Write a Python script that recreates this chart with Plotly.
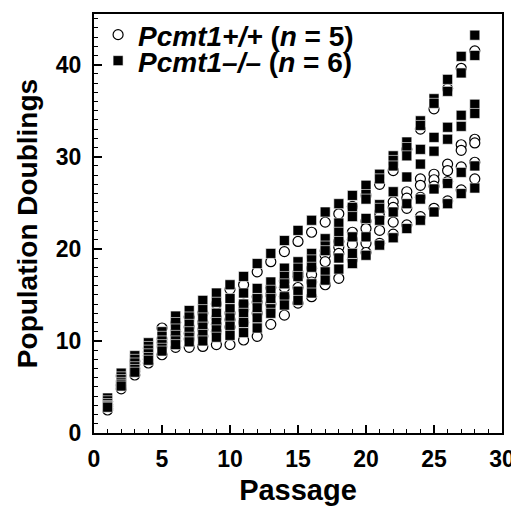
import plotly.graph_objects as go

passage = list(range(1, 29))

# Pcmt1 +/+ (open circles), 5 cell lines
wt_1 = [3.4, 6.2, 7.8, 9.2, 11.4, 12.0, 12.6, 13.0, 14.0, 15.6, 16.1, 17.5, 18.6, 19.7,
        20.8, 21.8, 22.9, 23.8, 24.6, 25.8, 27.0, 28.5, 30.8, 33.0, 35.2, 37.4, 39.6, 41.5]
wt_2 = [3.1, 5.6, 7.4, 8.8, 10.2, 11.0, 11.5, 12.0, 12.5, 13.0, 14.0, 14.8, 15.8, 16.5,
        17.4, 17.9, 19.8, 20.8, 21.8, 23.0, 24.0, 25.1, 26.2, 27.6, 28.1, 29.2, 31.3, 31.9]
wt_3 = [2.9, 5.3, 7.0, 8.4, 9.8, 10.5, 10.8, 11.2, 11.8, 12.3, 13.4, 14.2, 15.0, 15.8,
        17.0, 17.2, 19.3, 20.2, 21.0, 22.2, 23.5, 24.5, 25.5, 26.9, 27.5, 28.5, 30.7, 31.5]
wt_4 = [2.7, 5.1, 6.7, 8.0, 9.4, 10.0, 10.2, 10.5, 11.0, 11.5, 12.0, 13.0, 14.0, 14.8,
        15.8, 16.4, 18.6, 19.5, 20.5, 20.6, 22.0, 22.9, 24.4, 25.6, 26.8, 27.3, 28.9, 29.4]
wt_5 = [2.5, 4.8, 6.3, 7.6, 8.5, 9.3, 9.3, 9.4, 9.6, 9.6, 10.1, 10.5, 11.8, 12.8,
        14.1, 14.8, 16.1, 16.8, 18.8, 19.6, 20.6, 21.6, 22.6, 23.5, 24.4, 25.2, 26.4, 27.6]

# Pcmt1 -/- (filled squares), 6 cell lines
ko_1 = [3.8, 6.5, 8.4, 9.8, 11.0, 12.7, 13.3, 14.4, 15.2, 16.1, 17.0, 18.4, 19.5, 20.9,
        22.0, 23.1, 24.0, 24.9, 25.8, 26.9, 28.1, 30.1, 31.6, 33.9, 36.3, 38.4, 40.9, 43.2]
ko_2 = [3.5, 6.1, 8.0, 9.4, 10.5, 12.0, 12.6, 13.4, 14.2, 14.6, 15.2, 15.7, 16.4, 17.9,
        18.6, 19.5, 21.1, 22.8, 24.5, 25.9, 27.6, 29.6, 31.0, 33.4, 35.8, 37.1, 39.1, 41.0]
ko_3 = [3.2, 5.8, 7.6, 9.0, 10.0, 11.3, 11.8, 12.5, 13.0, 13.5, 14.0, 14.6, 15.5, 17.0,
        17.9, 18.8, 20.3, 21.8, 23.5, 25.4, 24.8, 29.0, 30.1, 30.8, 32.1, 33.2, 34.5, 35.7]
ko_4 = [3.0, 5.5, 7.2, 8.6, 9.6, 10.6, 11.0, 11.5, 12.0, 12.5, 13.0, 13.6, 14.6, 16.2,
        17.0, 18.0, 19.8, 20.8, 21.3, 23.3, 24.4, 26.2, 27.8, 29.2, 30.6, 31.9, 33.3, 34.7]
ko_5 = [2.9, 5.3, 6.9, 8.2, 9.2, 10.0, 10.4, 10.7, 11.2, 11.6, 12.0, 12.5, 13.5, 14.8,
        15.4, 16.2, 17.5, 19.0, 19.5, 21.3, 23.1, 24.0, 24.9, 25.4, 26.5, 27.1, 28.3, 29.0]
ko_6 = [2.8, 5.1, 6.6, 7.9, 8.9, 9.6, 9.9, 10.0, 10.4, 10.6, 10.9, 11.4, 13.0, 13.9,
        14.4, 15.2, 16.6, 17.8, 18.4, 19.3, 20.4, 21.2, 22.2, 23.1, 24.0, 24.9, 26.0, 26.6]

wt_lines = [wt_1, wt_2, wt_3, wt_4, wt_5]
ko_lines = [ko_1, ko_2, ko_3, ko_4, ko_5, ko_6]

x_wt = [p for line in wt_lines for p in passage]
y_wt = [v for line in wt_lines for v in line]
x_ko = [p for line in ko_lines for p in passage]
y_ko = [v for line in ko_lines for v in line]

FONT = "Liberation Sans, Arial, Helvetica, sans-serif"
LEG_FONT = dict(family=FONT, size=28, color="black", weight="bold")

fig = go.Figure()
fig.add_trace(go.Scatter(
    x=x_wt, y=y_wt, mode="markers",
    name="<i>Pcmt1+/+</i> (<i>n</i> = 5)",
    marker=dict(symbol="circle", size=10, color="white",
                line=dict(color="black", width=1.2)),
    legend="legend",
))
fig.add_trace(go.Scatter(
    x=x_ko, y=y_ko, mode="markers",
    name="<i>Pcmt1–/–</i> (<i>n</i> = 6)",
    marker=dict(symbol="square", size=10, color="black",
                line=dict(color="white", width=0.6)),
    legend="legend2",
))

axis_common = dict(
    showgrid=False, zeroline=False, showline=True, linecolor="black", linewidth=2,
    mirror=True, ticks="inside", ticklen=8, tickwidth=1.5, tickcolor="black",
    tickfont=dict(family=FONT, size=23, color="black", weight="bold"),
    automargin=False,
)

fig.update_xaxes(
    range=[0, 30], dtick=5, tick0=0,
    minor=dict(dtick=1, ticks="inside", ticklen=4, tickwidth=1.2, tickcolor="black"),
    title=dict(text="Passage", font=dict(family=FONT, size=29, color="black", weight="bold"),
               standoff=9),
    ticklabelstandoff=4,
    **axis_common,
)
fig.update_yaxes(
    range=[0, 45.5], dtick=10, tick0=0,
    minor=dict(dtick=1, ticks="inside", ticklen=4, tickwidth=1.2, tickcolor="black"),
    title=dict(text="Population Doublings",
               font=dict(family=FONT, size=28, color="black", weight="bold"), standoff=10),
    ticklabelstandoff=6,
    **axis_common,
)

# the page body adds an 8px offset, so the figure is sized to fit the window after it
fig.update_layout(
    width=511, height=498,
    margin=dict(l=86, r=17, t=2, b=73),
    paper_bgcolor="white", plot_bgcolor="white",
    showlegend=True,
    legend=dict(x=0.01, y=0.950, xanchor="left", yanchor="middle",
                bgcolor="rgba(0,0,0,0)", borderwidth=0, font=LEG_FONT),
    legend2=dict(x=0.01, y=0.888, xanchor="left", yanchor="middle",
                 bgcolor="rgba(0,0,0,0)", borderwidth=0, font=LEG_FONT),
)

fig.write_html("out.html")
